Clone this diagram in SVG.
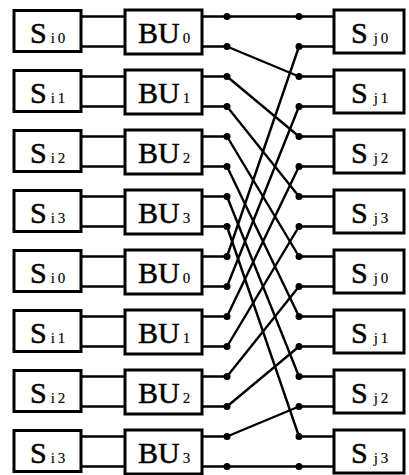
<svg xmlns="http://www.w3.org/2000/svg" width="409" height="475" viewBox="0 0 409 475">
<style>
.box{fill:#fff;stroke:#000;stroke-width:3}
.big{font-family:"Liberation Serif","Times New Roman",serif;font-size:30px;fill:#000;stroke:#000;stroke-width:0.5}
.sub{font-size:15px;letter-spacing:3px;stroke-width:0.15}
.bsub{font-size:15px;stroke-width:0.15}
.w{fill:none;stroke:#000;stroke-width:2.4;stroke-linejoin:round}
.d{fill:#000}
</style>
<rect width="409" height="475" fill="#fff"/>
<g id="connectors">
<g class="w">
<path d="M81 16.5H126M81 46.5H126"/>
<path d="M81 76.5H126M81 106.5H126"/>
<path d="M81 136.5H126M81 166.5H126"/>
<path d="M81 196.5H126M81 226.5H126"/>
<path d="M81 256.5H126M81 286.5H126"/>
<path d="M81 316.5H126M81 346.5H126"/>
<path d="M81 376.5H126M81 406.5H126"/>
<path d="M81 436.5H126M81 466.5H126"/>
<path d="M202 16.5H227L299 16.5H335"/>
<path d="M202 46.5H227L299 76.5H335"/>
<path d="M202 76.5H227L299 136.5H335"/>
<path d="M202 106.5H227L299 196.5H335"/>
<path d="M202 136.5H227L299 256.5H335"/>
<path d="M202 166.5H227L299 316.5H335"/>
<path d="M202 196.5H227L299 376.5H335"/>
<path d="M202 226.5H227L299 436.5H335"/>
<path d="M202 256.5H227L299 46.5H335"/>
<path d="M202 286.5H227L299 106.5H335"/>
<path d="M202 316.5H227L299 166.5H335"/>
<path d="M202 346.5H227L299 226.5H335"/>
<path d="M202 376.5H227L299 286.5H335"/>
<path d="M202 406.5H227L299 346.5H335"/>
<path d="M202 436.5H227L299 406.5H335"/>
<path d="M202 466.5H227L299 466.5H335"/>
</g>
<g class="d">
<circle cx="227" cy="16.5" r="3.5"/><circle cx="227" cy="46.5" r="3.5"/>
<circle cx="227" cy="76.5" r="3.5"/><circle cx="227" cy="106.5" r="3.5"/>
<circle cx="227" cy="136.5" r="3.5"/><circle cx="227" cy="166.5" r="3.5"/>
<circle cx="227" cy="196.5" r="3.5"/><circle cx="227" cy="226.5" r="3.5"/>
<circle cx="227" cy="256.5" r="3.5"/><circle cx="227" cy="286.5" r="3.5"/>
<circle cx="227" cy="316.5" r="3.5"/><circle cx="227" cy="346.5" r="3.5"/>
<circle cx="227" cy="376.5" r="3.5"/><circle cx="227" cy="406.5" r="3.5"/>
<circle cx="227" cy="436.5" r="3.5"/><circle cx="227" cy="466.5" r="3.5"/>
<circle cx="299" cy="16.5" r="3.5"/><circle cx="299" cy="46.5" r="3.5"/>
<circle cx="299" cy="76.5" r="3.5"/><circle cx="299" cy="106.5" r="3.5"/>
<circle cx="299" cy="136.5" r="3.5"/><circle cx="299" cy="166.5" r="3.5"/>
<circle cx="299" cy="196.5" r="3.5"/><circle cx="299" cy="226.5" r="3.5"/>
<circle cx="299" cy="256.5" r="3.5"/><circle cx="299" cy="286.5" r="3.5"/>
<circle cx="299" cy="316.5" r="3.5"/><circle cx="299" cy="346.5" r="3.5"/>
<circle cx="299" cy="376.5" r="3.5"/><circle cx="299" cy="406.5" r="3.5"/>
<circle cx="299" cy="436.5" r="3.5"/><circle cx="299" cy="466.5" r="3.5"/>
</g>
</g>
<g id="Si0a" transform="translate(0,0)"><rect class="box" x="14" y="10.5" width="67" height="41"/><text class="big" x="30" y="42.5">S<tspan class="sub" dx="4">i0</tspan></text></g>
<g id="Si1a" transform="translate(0,60)"><rect class="box" x="14" y="10.5" width="67" height="41"/><text class="big" x="30" y="42.5">S<tspan class="sub" dx="4">i1</tspan></text></g>
<g id="Si2a" transform="translate(0,120)"><rect class="box" x="14" y="10.5" width="67" height="41"/><text class="big" x="30" y="42.5">S<tspan class="sub" dx="4">i2</tspan></text></g>
<g id="Si3a" transform="translate(0,180)"><rect class="box" x="14" y="10.5" width="67" height="41"/><text class="big" x="30" y="42.5">S<tspan class="sub" dx="4">i3</tspan></text></g>
<g id="Si0b" transform="translate(0,240)"><rect class="box" x="14" y="10.5" width="67" height="41"/><text class="big" x="30" y="42.5">S<tspan class="sub" dx="4">i0</tspan></text></g>
<g id="Si1b" transform="translate(0,300)"><rect class="box" x="14" y="10.5" width="67" height="41"/><text class="big" x="30" y="42.5">S<tspan class="sub" dx="4">i1</tspan></text></g>
<g id="Si2b" transform="translate(0,360)"><rect class="box" x="14" y="10.5" width="67" height="41"/><text class="big" x="30" y="42.5">S<tspan class="sub" dx="4">i2</tspan></text></g>
<g id="Si3b" transform="translate(0,420)"><rect class="box" x="14" y="10.5" width="67" height="41"/><text class="big" x="30" y="42.5">S<tspan class="sub" dx="4">i3</tspan></text></g>
<g id="BU0a" transform="translate(0,0)"><rect class="box" x="125" y="10" width="77" height="44"/><text class="big" x="138" y="43">BU<tspan class="bsub" dx="3">0</tspan></text></g>
<g id="BU1a" transform="translate(0,60)"><rect class="box" x="125" y="10" width="77" height="44"/><text class="big" x="138" y="43">BU<tspan class="bsub" dx="3">1</tspan></text></g>
<g id="BU2a" transform="translate(0,120)"><rect class="box" x="125" y="10" width="77" height="44"/><text class="big" x="138" y="43">BU<tspan class="bsub" dx="3">2</tspan></text></g>
<g id="BU3a" transform="translate(0,180)"><rect class="box" x="125" y="10" width="77" height="44"/><text class="big" x="138" y="43">BU<tspan class="bsub" dx="3">3</tspan></text></g>
<g id="BU0b" transform="translate(0,240)"><rect class="box" x="125" y="10" width="77" height="44"/><text class="big" x="138" y="43">BU<tspan class="bsub" dx="3">0</tspan></text></g>
<g id="BU1b" transform="translate(0,300)"><rect class="box" x="125" y="10" width="77" height="44"/><text class="big" x="138" y="43">BU<tspan class="bsub" dx="3">1</tspan></text></g>
<g id="BU2b" transform="translate(0,360)"><rect class="box" x="125" y="10" width="77" height="44"/><text class="big" x="138" y="43">BU<tspan class="bsub" dx="3">2</tspan></text></g>
<g id="BU3b" transform="translate(0,420)"><rect class="box" x="125" y="10" width="77" height="44"/><text class="big" x="138" y="43">BU<tspan class="bsub" dx="3">3</tspan></text></g>
<g id="Sj0a" transform="translate(0,0)"><rect class="box" x="334" y="10" width="70" height="43"/><text class="big" x="351" y="43">S<tspan class="sub" dx="6">j0</tspan></text></g>
<g id="Sj1a" transform="translate(0,60)"><rect class="box" x="334" y="10" width="70" height="43"/><text class="big" x="351" y="43">S<tspan class="sub" dx="6">j1</tspan></text></g>
<g id="Sj2a" transform="translate(0,120)"><rect class="box" x="334" y="10" width="70" height="43"/><text class="big" x="351" y="43">S<tspan class="sub" dx="6">j2</tspan></text></g>
<g id="Sj3a" transform="translate(0,180)"><rect class="box" x="334" y="10" width="70" height="43"/><text class="big" x="351" y="43">S<tspan class="sub" dx="6">j3</tspan></text></g>
<g id="Sj0b" transform="translate(0,240)"><rect class="box" x="334" y="10" width="70" height="43"/><text class="big" x="351" y="43">S<tspan class="sub" dx="6">j0</tspan></text></g>
<g id="Sj1b" transform="translate(0,300)"><rect class="box" x="334" y="10" width="70" height="43"/><text class="big" x="351" y="43">S<tspan class="sub" dx="6">j1</tspan></text></g>
<g id="Sj2b" transform="translate(0,360)"><rect class="box" x="334" y="10" width="70" height="43"/><text class="big" x="351" y="43">S<tspan class="sub" dx="6">j2</tspan></text></g>
<g id="Sj3b" transform="translate(0,420)"><rect class="box" x="334" y="10" width="70" height="43"/><text class="big" x="351" y="43">S<tspan class="sub" dx="6">j3</tspan></text></g>
</svg>
